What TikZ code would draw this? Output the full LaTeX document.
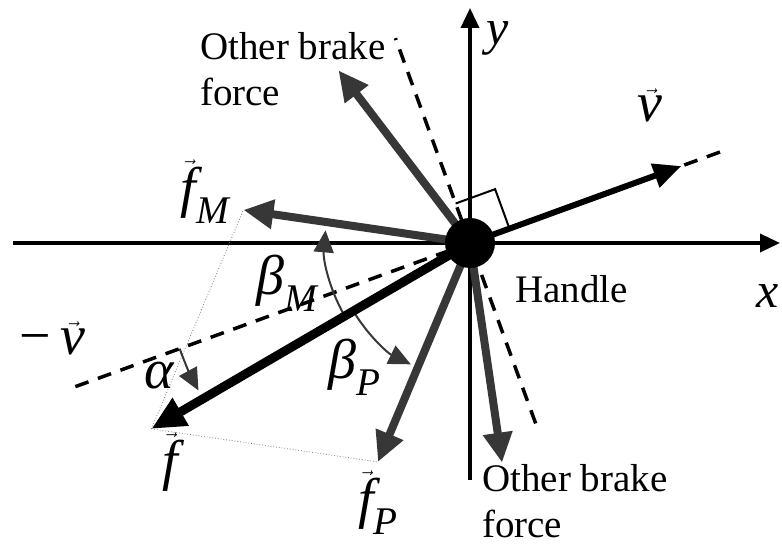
\documentclass[tikz,border=0pt]{standalone}
\usepackage{amsmath}
\usepackage{fontspec}
\setmainfont{Liberation Serif}
\usetikzlibrary{calc, arrows.meta}
\definecolor{brake}{RGB}{55, 55, 55}
\newcommand{\vit}[1]{\ensuremath{\vec{\textit{#1}}}}
\newcommand{\sub}[1]{\ensuremath{_{\textit{#1}}}}

\begin{document}
\begin{tikzpicture}[x=1pt, y=1pt,
  axis/.style={line width=3.5pt, -{Triangle[length=20pt, width=18pt]}},
  force/.style={brake, line width=8pt, -{Triangle[length=30pt, width=28pt]}},
  guide/.style={line width=3.5pt, dash pattern=on 14pt off 10pt},
  comp/.style={gray, line width=0.8pt, dotted},
  angarc/.style={brake, line width=2pt, -{Triangle[length=22pt, width=20pt]}},
  txt/.style={font=\fontsize{39}{46}\selectfont, inner sep=0pt, align=left},
  lbl/.style={font=\fontsize{56}{60}\selectfont, inner sep=0pt}]
  \useasboundingbox (0,0) rectangle (782,545);

  % Handle and axes
  \coordinate (O) at (470,302);
  \coordinate (xl) at (13,302);
  \coordinate (xr) at (780,302);
  \coordinate (yb) at (470,65);
  \coordinate (yt) at (470,537);
  \draw[line width=3.5pt] (xl) -- (O);
  \draw[axis] (O) -- (xr);
  \draw[line width=3.5pt] (yb) -- (O);
  \draw[axis] (O) -- (yt);
  \node[lbl, font=\fontsize{50}{54}\selectfont] (ylbl) at (498,507) {\textit{y}};
  \node[lbl, font=\fontsize{50}{54}\selectfont] (xlbl) at (768,249) {\textit{x}};

  % Velocity line and its normal
  \coordinate (vback) at ($(O)+(200:420)$);
  \coordinate (vfront) at ($(O)+(20:272)$);
  \coordinate (vtip) at ($(O)+(20:225)$);
  \coordinate (nup) at ($(O)+(110:218)$);
  \coordinate (ndown) at ($(O)+(-70:192)$);
  \draw[guide] (vback) -- (vfront);
  \draw[guide] (ndown) -- (nup);
  \coordinate (ra1) at ($(O)+(20:42)$);
  \coordinate (ra2) at ($(ra1)+(110:42)$);
  \coordinate (ra3) at ($(O)+(110:42)$);
  \draw[line width=2pt] (ra1) -- (ra2) -- (ra3);

  % Force components
  \coordinate (fM) at ($(O)+(171.7:229)$);
  \coordinate (fP) at ($(O)+(247.2:237.5)$);
  \coordinate (f) at ($(fM)+(fP)-(O)$);
  \coordinate (ob1) at ($(O)+(127.3:217)$);
  \coordinate (ob2) at ($(O)+(-81.7:222)$);
  \draw[comp] (f) -- (fM);
  \draw[comp] (f) -- (fP);

  % Angles
  \draw[angarc] ($(O)+(210:145)$) arc[start angle=210, end angle=175, radius=145];
  \draw[angarc] ($(O)+(211:135)$) arc[start angle=211, end angle=244, radius=135];
  \draw[angarc] ($(O)+(200:309)$) arc[start angle=200, end angle=208.5, radius=309];

  \draw[force] (O) -- (ob1);
  \draw[force] (O) -- (ob2);
  \draw[force] (O) -- (fM);
  \draw[force] (O) -- (fP);
  \draw[line width=9pt, -{Triangle[length=34pt, width=30pt]}] (O) -- (f);
  \draw[line width=6pt, -{Triangle[length=28pt, width=24pt]}] (O) -- (vtip);
  \node[circle, fill, minimum size=50pt, inner sep=0pt] (handle) at (O) {};

  % Labels
  \node[txt, anchor=base west] (hlbl) at (515,242) {Handle};
  \node[txt, anchor=base west] (obtop) at (200,439) {Other brake\\force};
  \node[txt, anchor=base west] (obbot) at (482,7) {Other brake\\force};
  \node[lbl] (vlbl) at (650,440) {\vit{v}};
  \node[lbl] (mvlbl) at (52,207) {−\,\vit{v}};
  \node[lbl] (fMlbl) at (205,353) {\vit{f}\sub{M}};
  \node[lbl] (flbl) at (170,83) {\vit{f}};
  \node[lbl] (fPlbl) at (378,42) {\vit{f}\sub{P}};
  \node[lbl] (alpha) at (160,169) {\textit{α}};
  \node[lbl] (betaM) at (287,262) {\textit{β}\sub{M}};
  \node[lbl] (betaP) at (355,178) {\textit{β}\sub{P}};
\end{tikzpicture}
\end{document}
